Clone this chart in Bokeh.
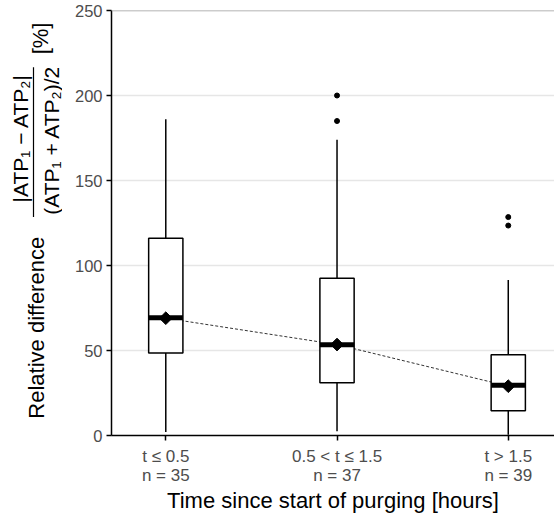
import numpy as np
from math import pi
from bokeh.plotting import figure
from bokeh.models import Range1d, FixedTicker, Span
from bokeh.layouts import row
from bokeh.core.properties import value
from bokeh.embed import file_html
from bokeh.resources import INLINE

# ---- data ----
categories = ["t ≤ 0.5\nn = 35", "0.5 < t ≤ 1.5\nn = 37", "t > 1.5\nn = 39"]
positions = [1, 2, 3]
lower_whisker = [2, 2.5, 0.5]
q1 = [48.5, 31, 14.5]
median = [69.3, 53.4, 29.5]
mean = [69, 53.5, 29]
q3 = [116, 92.5, 47.5]
upper_whisker = [186, 174, 91.5]
outlier_x = [2, 2, 3, 3]
outlier_y = [200, 185, 128.5, 123.5]
y_ticks = [0, 50, 100, 150, 200, 250]

FONT = "Liberation Sans"
W, H = 554, 515
LEFT_W = 62
TOP, BOTTOM = 10, 79
LW = 1.5

# ---- main plot ----
p = figure(width=W - LEFT_W, height=H,
           x_range=Range1d(0.683, 3.27), y_range=Range1d(0, 250),
           output_backend="svg", toolbar_location=None,
           min_border_left=49, min_border_right=0,
           min_border_top=TOP, min_border_bottom=BOTTOM)
p.outline_line_color = None
p.background_fill_color = "white"
p.border_fill_color = "white"

p.xgrid.visible = False
p.ygrid.ticker = FixedTicker(ticks=[50, 100, 150, 200])
p.ygrid.grid_line_color = "#E6E6E6"
p.ygrid.grid_line_width = 1.3
p.add_layout(Span(location=250, dimension="width", line_color="#9A9A9A", line_width=1.3))

# axes
for ax in (p.xaxis[0], p.yaxis[0]):
    ax.axis_line_color = "black"
    ax.axis_line_width = LW
    ax.major_tick_line_color = "black"
    ax.major_tick_line_width = LW
    ax.major_tick_in = 0
    ax.major_tick_out = 5
    ax.minor_tick_line_color = None
    ax.major_label_text_font = FONT
    ax.major_label_text_color = "#4D4D4D"
    ax.major_label_standoff = 4

p.yaxis.major_label_text_font_size = "16.5px"
p.yaxis.ticker = FixedTicker(ticks=y_ticks)
p.xaxis.ticker = FixedTicker(ticks=positions)
p.xaxis.major_label_overrides = {pos: lab for pos, lab in zip(positions, categories)}
p.xaxis.major_label_text_font_size = "17px"
p.xaxis.major_label_text_line_height = 1.0
p.xaxis.major_label_standoff = 6
p.xaxis.axis_label = "Time since start of purging [hours]"
p.xaxis.axis_label_text_font = FONT
p.xaxis.axis_label_text_font_size = "22px"
p.xaxis.axis_label_text_font_style = "normal"
p.xaxis.axis_label_text_color = "black"
p.xaxis.axis_label_standoff = 0

# mean connecting line (drawn first, boxes hide it)
p.line(positions, mean, line_dash="3 2", line_color="#333333", line_width=1)

# whiskers
p.segment(x0=positions, y0=lower_whisker, x1=positions, y1=q1, line_color="black", line_width=LW)
p.segment(x0=positions, y0=q3, x1=positions, y1=upper_whisker, line_color="black", line_width=LW)

# boxes
p.vbar(x=positions, width=0.2, bottom=q1, top=q3,
       fill_color="white", line_color="black", line_width=LW)

# medians
p.rect(x=positions, y=median, width=0.2, height=5, height_units="screen",
       fill_color="black", line_color=None)

# means
p.scatter(positions, mean, marker="square", angle=pi / 4, size=9,
          fill_color="black", line_color="black")

# outliers
p.scatter(outlier_x, outlier_y, size=5, fill_color="black", line_color="black")

# ---- y-axis title panel (frame aligned with main plot frame) ----
t = figure(width=LEFT_W, height=H, x_range=Range1d(0, LEFT_W),
           y_range=Range1d(BOTTOM, H - TOP),
           output_backend="svg", toolbar_location=None,
           min_border_left=0, min_border_right=0,
           min_border_top=TOP, min_border_bottom=BOTTOM,
           x_axis_type=None, y_axis_type=None)
t.outline_line_color = None
t.background_fill_color = "white"
t.border_fill_color = "white"

def ty(cy):
    return H - cy

common = dict(angle=pi / 2, text_align="center", text_baseline="middle",
              text_font=value(FONT), text_color="black")
t.text(x=[36], y=[ty(328)], text=["Relative difference"], text_font_size="22px", **common)
t.text(x=[20], y=[ty(138)], text=["|ATP₁ − ATP₂|"], text_font_size="21px", **common)
t.text(x=[51], y=[ty(140)], text=["(ATP₁ + ATP₂)/2"], text_font_size="21px", **common)
t.text(x=[40], y=[ty(38)], text=["[%]"], text_font_size="22px", **common)
t.segment(x0=[33], y0=[ty(67)], x1=[33], y1=[ty(217)], line_color="black", line_width=1.2)

layout = row(t, p)
open("out.html", "w").write(file_html(layout, INLINE))
